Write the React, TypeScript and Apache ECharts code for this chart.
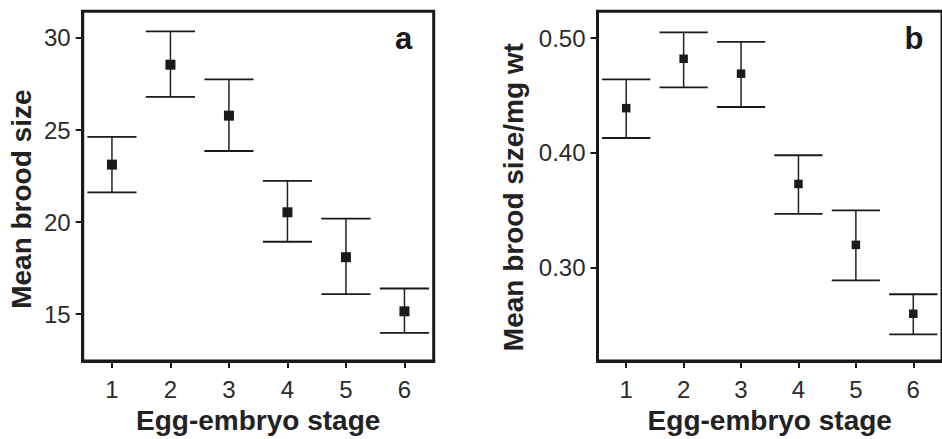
import React, { useEffect, useRef } from "react";
import * as echarts from "echarts";

const stages = ["1", "2", "3", "4", "5", "6"];

const broodMean = [23.12, 28.55, 25.78, 20.53, 18.09, 15.15];
const broodUpper = [24.63, 30.36, 27.75, 22.24, 20.19, 16.39];
const broodLower = [21.61, 26.8, 23.86, 18.93, 16.08, 13.98];

const perMgMean = [0.439, 0.482, 0.469, 0.373, 0.32, 0.26];
const perMgUpper = [0.464, 0.505, 0.4966, 0.398, 0.35, 0.277];
const perMgLower = [0.413, 0.457, 0.44, 0.347, 0.289, 0.242];

const yTicksA = [15, 20, 25, 30];
const yTicksB = [0.3, 0.4, 0.5];

const INK = "#1a1a1a";
const LABEL = "#2b2b2b";
const FONT = "'Liberation Sans', Arial, Helvetica, sans-serif";

function errorBarSeries(idx: number, lower: number[], upper: number[]) {
  return {
    type: "custom",
    xAxisIndex: idx,
    yAxisIndex: idx,
    clip: false,
    data: stages.map((_, i) => [i, lower[i], upper[i]]),
    encode: { x: 0, y: [1, 2] },
    renderItem: (params: any, api: any) => {
      const x = api.value(0);
      const pLo = api.coord([x, api.value(1)]);
      const pHi = api.coord([x, api.value(2)]);
      const hw = api.size([1, 0])[0] * 0.42;
      const cap = { stroke: INK, lineWidth: 1.8 };
      return {
        type: "group",
        children: [
          {
            type: "line",
            shape: { x1: pLo[0], y1: pLo[1], x2: pHi[0], y2: pHi[1] },
            style: { stroke: "#222", lineWidth: 1.5 },
          },
          {
            type: "line",
            shape: { x1: pLo[0] - hw, y1: pLo[1], x2: pLo[0] + hw, y2: pLo[1] },
            style: cap,
          },
          {
            type: "line",
            shape: { x1: pHi[0] - hw, y1: pHi[1], x2: pHi[0] + hw, y2: pHi[1] },
            style: cap,
          },
        ],
      };
    },
    z: 2,
  };
}

function makeXAxis(gridIndex: number) {
  return {
    type: "category",
    gridIndex,
    data: stages,
    boundaryGap: true,
    axisLine: { show: true, lineStyle: { color: INK, width: 3 } },
    axisTick: { show: true, alignWithLabel: true, length: 7, lineStyle: { color: INK, width: 2 } },
    axisLabel: { color: LABEL, fontSize: 24, fontFamily: FONT, margin: 16 },
    splitLine: { show: false },
    name: "Egg-embryo stage",
    nameLocation: "middle",
    nameGap: 45,
    nameTextStyle: { color: "#222", fontSize: 28, fontWeight: "bold", fontFamily: FONT },
  };
}

function makeYAxis(
  gridIndex: number,
  min: number,
  max: number,
  ticks: number[],
  fmt: (v: number) => string,
  name: string,
  nameGap: number,
  namePadding: number[]
) {
  return {
    type: "value",
    gridIndex,
    min,
    max,
    axisLine: { show: true, lineStyle: { color: INK, width: 3 } },
    axisTick: { show: true, length: 7, customValues: ticks, lineStyle: { color: INK, width: 2 } },
    axisLabel: {
      color: LABEL,
      fontSize: 24,
      fontFamily: FONT,
      margin: 12,
      customValues: ticks,
      formatter: (v: number) => fmt(v),
    },
    splitLine: { show: false },
    name,
    nameLocation: "middle",
    nameRotate: 90,
    nameGap,
    nameTextStyle: {
      color: "#222",
      fontSize: 28,
      fontWeight: "bold",
      fontFamily: FONT,
      padding: namePadding,
    },
  };
}

export default function App() {
  const ref = useRef<HTMLDivElement>(null);

  useEffect(() => {
    if (!ref.current) return;
    const chart = echarts.init(ref.current, undefined, { renderer: "svg" });
    chart.setOption({
      animation: false,
      backgroundColor: "#ffffff",
      grid: [
        { left: 82.7, top: 11.3, width: 351, height: 352.7, show: true, borderColor: INK, borderWidth: 3 },
        { left: 597.5, top: 11.3, width: 351, height: 352.7, show: true, borderColor: INK, borderWidth: 3 },
      ],
      xAxis: [makeXAxis(0), makeXAxis(1)],
      yAxis: [
        makeYAxis(0, 12.45, 31.45, yTicksA, (v) => String(v), "Mean brood size", 47, [0, 26, 0, 0]),
        makeYAxis(1, 0.2189, 0.5233, yTicksB, (v) => v.toFixed(2), "Mean brood size/mg wt", 70, [0, 22, 0, 0]),
      ],
      series: [
        errorBarSeries(0, broodLower, broodUpper),
        {
          type: "scatter",
          xAxisIndex: 0,
          yAxisIndex: 0,
          symbol: "rect",
          symbolSize: 10,
          itemStyle: { color: INK, opacity: 1 },
          data: stages.map((_, i) => [i, broodMean[i]]),
          z: 3,
        },
        errorBarSeries(1, perMgLower, perMgUpper),
        {
          type: "scatter",
          xAxisIndex: 1,
          yAxisIndex: 1,
          symbol: "rect",
          symbolSize: 8.5,
          itemStyle: { color: INK, opacity: 1 },
          data: stages.map((_, i) => [i, perMgMean[i]]),
          z: 3,
        },
      ],
      graphic: [
        {
          type: "text",
          x: 403.5,
          y: 38.6,
          style: {
            text: "a",
            fill: INK,
            font: `bold 31px ${FONT}`,
            textAlign: "center",
            textVerticalAlign: "middle",
          },
        },
        {
          type: "text",
          x: 914,
          y: 38.6,
          style: {
            text: "b",
            fill: INK,
            font: `bold 31px ${FONT}`,
            textAlign: "center",
            textVerticalAlign: "middle",
          },
        },
      ],
    });
    return () => chart.dispose();
  }, []);

  return (
    <div
      ref={ref}
      style={{ position: "fixed", left: 0, top: 0, width: 942, height: 439, background: "#fff" }}
    />
  );
}
